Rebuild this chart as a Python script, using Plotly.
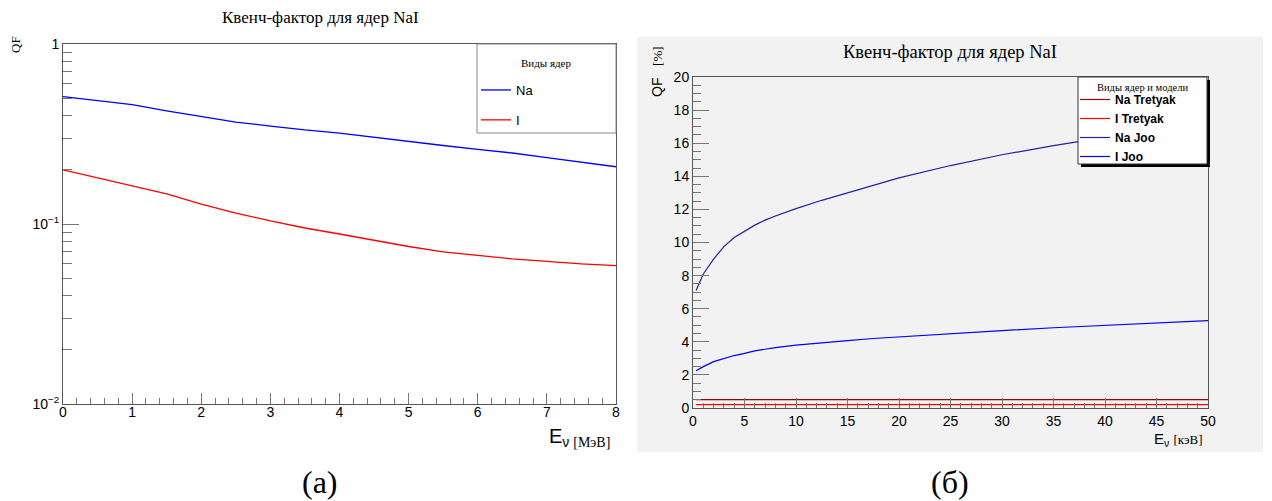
import plotly.graph_objects as go

W, H = 1272, 501

# ---------------- data ----------------
# left panel: QF vs E (MeV), log scale
e_mev = [0, 0.5, 1, 1.5, 2, 2.5, 3, 3.5, 4, 4.5, 5, 5.5, 6, 6.5, 7, 7.5, 8]
qf_na = [0.51, 0.485, 0.46, 0.425, 0.394, 0.368, 0.35, 0.333, 0.32, 0.303,
         0.287, 0.273, 0.26, 0.248, 0.234, 0.221, 0.208]
qf_i = [0.2, 0.18, 0.163, 0.147, 0.129, 0.115, 0.104, 0.095, 0.088, 0.081,
        0.075, 0.07, 0.067, 0.064, 0.062, 0.06, 0.0587]

# right panel: QF [%] vs E (keV)
e_kev = [0.3, 1, 2, 3, 4, 5, 6, 7, 8, 10, 12.5, 15, 17.5, 20, 25, 30, 35, 40, 45, 50]
na_tretyak = [0.51, 0.51, 0.51, 0.51, 0.51, 0.51, 0.51, 0.51, 0.51, 0.51,
              0.51, 0.51, 0.51, 0.51, 0.51, 0.51, 0.51, 0.51, 0.51, 0.51]
i_tretyak = [0.2, 0.2, 0.2, 0.2, 0.2, 0.2, 0.2, 0.2, 0.2, 0.2,
             0.2, 0.2, 0.2, 0.2, 0.2, 0.2, 0.2, 0.2, 0.2, 0.2]
na_joo = [7.1, 8.1, 9.0, 9.75, 10.3, 10.7, 11.05, 11.35, 11.6, 12.05,
          12.55, 13.0, 13.45, 13.9, 14.65, 15.3, 15.85, 16.35, 16.8, 17.25]
i_joo = [2.25, 2.5, 2.8, 3.0, 3.17, 3.3, 3.45, 3.55, 3.65, 3.8,
         3.95, 4.07, 4.2, 4.3, 4.5, 4.68, 4.85, 5.0, 5.15, 5.28]

left_y_ticks = [0.01, 0.1, 1]
left_y_text = ["10<sup>\u22122</sup>", "10<sup>\u22121</sup>", "1"]

TITLE = "Квенч-фактор для ядер NaI"
SANS = "Liberation Sans"
SERIF = "Liberation Serif"


def px(x):
    return x / W


def py(y):
    return 1 - y / H


fig = go.Figure()

# left traces
fig.add_trace(go.Scatter(x=e_mev, y=qf_na, mode="lines", name="Na",
                         line=dict(color="#0000ff", width=1.3),
                         xaxis="x", yaxis="y", legend="legend", legendgroup="g1"))
fig.add_trace(go.Scatter(x=e_mev, y=qf_i, mode="lines", name="I",
                         line=dict(color="#ff0000", width=1.3),
                         xaxis="x", yaxis="y", legend="legend", legendgroup="g2"))

# right traces
fig.add_trace(go.Scatter(x=e_kev, y=na_tretyak, mode="lines", name="Na Tretyak",
                         line=dict(color="#990000", width=1.2),
                         xaxis="x2", yaxis="y2", legend="legend2"))
fig.add_trace(go.Scatter(x=e_kev, y=i_tretyak, mode="lines", name="I Tretyak",
                         line=dict(color="#ff0000", width=1.2),
                         xaxis="x2", yaxis="y2", legend="legend2"))
fig.add_trace(go.Scatter(x=e_kev, y=na_joo, mode="lines", name="Na Joo",
                         line=dict(color="#22229f", width=1.2),
                         xaxis="x2", yaxis="y2", legend="legend2"))
fig.add_trace(go.Scatter(x=e_kev, y=i_joo, mode="lines", name="I Joo",
                         line=dict(color="#0000ff", width=1.2),
                         xaxis="x2", yaxis="y2", legend="legend2"))

axis_common = dict(showgrid=False, zeroline=False, showline=True, mirror=True,
                   linecolor="#555555", linewidth=1, ticks="inside",
                   tickcolor="#777777", tickwidth=1, automargin=False,
                   tickfont=dict(family=SANS, size=14, color="#000000"))

fig.update_layout(
    width=W, height=H,
    margin=dict(l=0, r=0, t=0, b=0, pad=0, autoexpand=False),
    paper_bgcolor="#ffffff",
    plot_bgcolor="rgba(0,0,0,0)",
    showlegend=True,
    xaxis=dict(domain=[px(63), px(616)], range=[0, 8], anchor="y",
               tickmode="linear", tick0=0, dtick=1, ticklen=11,
               ticklabelstandoff=-5,
               minor=dict(ticks="inside", dtick=0.2, ticklen=6, tickcolor="#777777"),
               **axis_common),
    yaxis=dict(domain=[py(404), py(44)], type="log", range=[-2, 0], anchor="x",
               tickmode="array", tickvals=left_y_ticks, ticktext=left_y_text,
               ticklen=16,
               minor=dict(ticks="inside", ticklen=9, tickcolor="#777777",
                          tickmode="array",
                          tickvals=[0.02, 0.03, 0.04, 0.05, 0.06, 0.07, 0.08, 0.09,
                                    0.2, 0.3, 0.4, 0.5, 0.6, 0.7, 0.8, 0.9]),
               **axis_common),
    xaxis2=dict(domain=[px(693), px(1208)], range=[0, 50], anchor="y2",
                tickmode="linear", tick0=0, dtick=5, ticklen=10,
                minor=dict(ticks="inside", dtick=1, ticklen=5, tickcolor="#777777"),
                **axis_common),
    yaxis2=dict(domain=[py(408), py(77)], range=[0, 20], anchor="x2",
                tickmode="linear", tick0=0, dtick=2, ticklen=16,
                minor=dict(ticks="inside", dtick=0.5, ticklen=8, tickcolor="#777777"),
                **axis_common),
    legend=dict(x=px(476), y=py(75), xanchor="left", yanchor="top",
                bgcolor="rgba(0,0,0,0)", borderwidth=0,
                font=dict(family=SANS, size=13, color="#000000"),
                traceorder="grouped", tracegroupgap=10, itemwidth=30),
    legend2=dict(x=px(1075), y=py(85), xanchor="left", yanchor="top",
                 bgcolor="rgba(0,0,0,0)", borderwidth=0,
                 font=dict(family=SANS, size=12, color="#000000", weight="bold"),
                 traceorder="normal", itemwidth=30),
)

shapes = []
# grey pad of the right panel
shapes.append(dict(type="rect", xref="paper", yref="paper",
                   x0=px(637), x1=px(1263), y0=py(452), y1=py(37),
                   fillcolor="#f2f2f2", line=dict(width=0), layer="below"))
# left legend box
shapes.append(dict(type="rect", xref="paper", yref="paper",
                   x0=px(477), x1=px(616), y0=py(133), y1=py(44),
                   fillcolor="#ffffff", line=dict(color="#888888", width=1), layer="above"))
# right legend shadow + box
shapes.append(dict(type="rect", xref="paper", yref="paper",
                   x0=px(1081), x1=px(1210), y0=py(167), y1=py(80),
                   fillcolor="#000000", line=dict(width=0), layer="above"))
shapes.append(dict(type="rect", xref="paper", yref="paper",
                   x0=px(1078), x1=px(1207), y0=py(164), y1=py(77),
                   fillcolor="#ffffff", line=dict(color="#333333", width=1), layer="above"))
fig.update_layout(shapes=shapes)

ann = []
ann.append(dict(text=TITLE, x=px(320), y=py(17), xref="paper", yref="paper",
                showarrow=False, font=dict(family=SERIF, size=17, color="#000000"),
                xanchor="center", yanchor="middle"))
ann.append(dict(text=TITLE, x=px(950), y=py(52), xref="paper", yref="paper",
                showarrow=False, font=dict(family=SERIF, size=18.5, color="#000000"),
                xanchor="center", yanchor="middle"))
ann.append(dict(text="QF", x=px(15), y=py(45), xref="paper", yref="paper",
                showarrow=False, textangle=-90,
                font=dict(family=SERIF, size=13, color="#000000"),
                xanchor="center", yanchor="middle"))
ann.append(dict(text="E<sub>\u03bd <span style='font-family:Liberation Serif'>[МэВ]</span></sub>",
                x=px(612), y=py(437), xref="paper", yref="paper",
                showarrow=False, font=dict(family=SANS, size=20, color="#000000"),
                xanchor="right", yanchor="middle"))
ann.append(dict(text="QF   <span style='font-family:Liberation Serif;font-size:13px'>[%]</span>",
                x=px(657), y=py(72), xref="paper", yref="paper",
                showarrow=False, textangle=-90,
                font=dict(family=SANS, size=14, color="#000000"),
                xanchor="center", yanchor="middle"))
ann.append(dict(text="E<sub>\u03bd</sub> <span style='font-family:Liberation Serif;font-size:13px'>[кэВ]</span>",
                x=px(1205), y=py(439), xref="paper", yref="paper",
                showarrow=False, font=dict(family=SANS, size=15, color="#000000"),
                xanchor="right", yanchor="middle"))
ann.append(dict(text="Виды ядер", x=px(546), y=py(63), xref="paper", yref="paper",
                showarrow=False, font=dict(family=SERIF, size=11, color="#000000"),
                xanchor="center", yanchor="middle"))
ann.append(dict(text="Виды ядер и модели", x=px(1142), y=py(87), xref="paper", yref="paper",
                showarrow=False, font=dict(family=SERIF, size=10.5, color="#000000"),
                xanchor="center", yanchor="middle"))
ann.append(dict(text="(а)", x=px(320), y=py(482), xref="paper", yref="paper",
                showarrow=False, font=dict(family=SERIF, size=32, color="#000000"),
                xanchor="center", yanchor="middle"))
ann.append(dict(text="(б)", x=px(950), y=py(482), xref="paper", yref="paper",
                showarrow=False, font=dict(family=SERIF, size=32, color="#000000"),
                xanchor="center", yanchor="middle"))
fig.update_layout(annotations=ann)

fig.write_html("out.html")
